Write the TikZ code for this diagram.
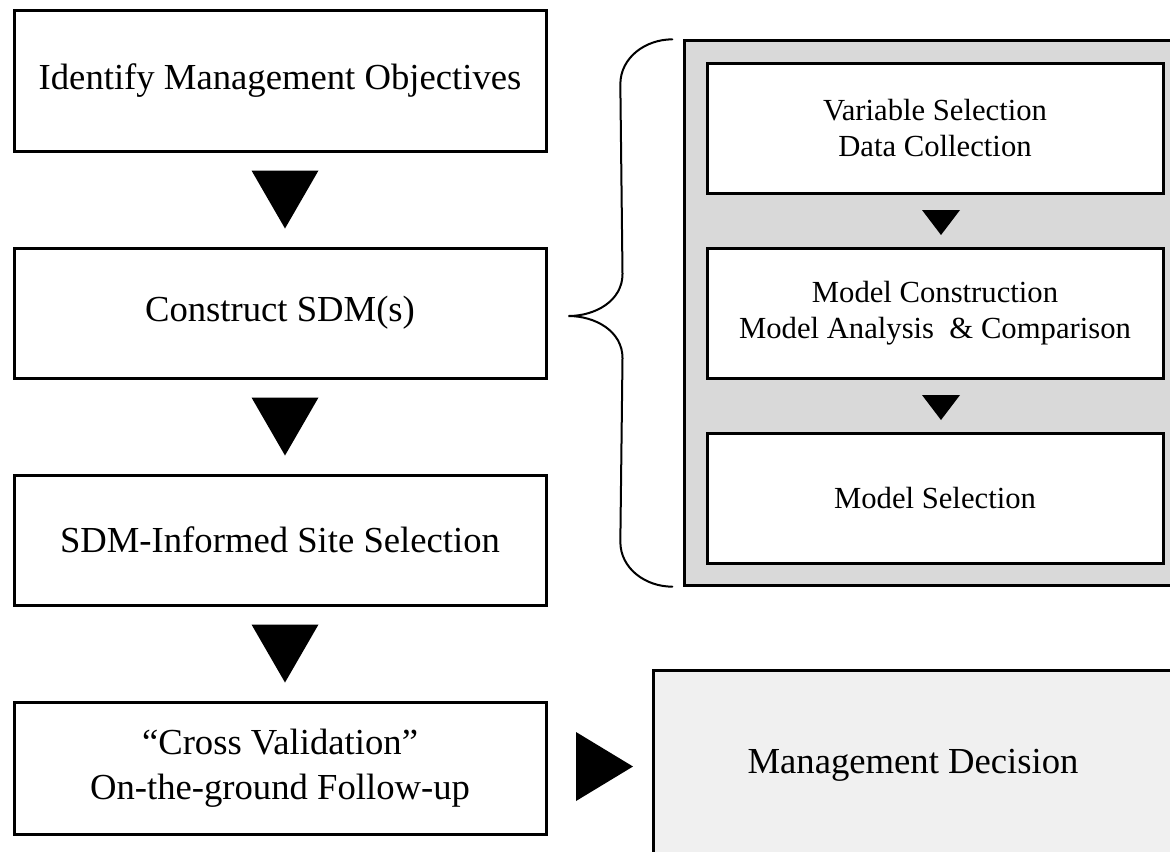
\documentclass[tikz,border=0pt]{standalone}
\usepackage{fontspec}
\setmainfont{Liberation Serif}
\usetikzlibrary{positioning, calc, fit, backgrounds}
\definecolor{panel-gray}{HTML}{D9D9D9}
\definecolor{decide-gray}{HTML}{F0F0F0}

\begin{document}
\begin{tikzpicture}[
    x=0.75pt, y=0.75pt,
    node distance=70.5pt,
    stepbox/.style={draw, line width=2.25pt, fill=white, minimum width=399pt, minimum height=97.5pt, align=center, font=\fontsize{27.5}{34}\selectfont},
    subbox/.style={draw, line width=2.25pt, fill=white, minimum width=342pt, minimum height=97.5pt, align=center, font=\fontsize{23}{27}\selectfont},
    panelbox/.style={draw, line width=2.25pt, fill=panel-gray, inner sep=15.5pt},
    decisionbox/.style={draw, line width=2.25pt, fill=decide-gray, minimum width=390pt, minimum height=142.5pt, font=\fontsize{27.5}{34}\selectfont},
    arrowtri/.style={fill=black},
    bracket/.style={line width=1.5pt, line cap=round}
]
    \useasboundingbox (0,0) rectangle (1170,-851);

    % --- Main Steps ---
    \node (objectives) [stepbox, minimum height=105.75pt] at (280,-80.5) {Identify Management Objectives};
    \node (construct) [stepbox, below=of objectives] {Construct SDM(s)};
    \node (site) [stepbox, below=of construct] {SDM-Informed Site Selection};
    \node (followup) [stepbox, below=of site, minimum height=99pt] {“Cross Validation”\\On-the-ground Follow-up};

    % --- SDM Sub-steps ---
    \node (varsel) [subbox] at (935,-128) {Variable Selection\\Data Collection};
    \node (modcon) [subbox, below=39pt of varsel] {Model Construction\\Model Analysis~ \& Comparison};
    \node (modsel) [subbox, below=39pt of modcon] {Model Selection};

    % --- Decision ---
    \node (decision) [decisionbox] at (913,-765) {Management Decision};

    % --- Background Panel ---
    \begin{scope}[on background layer]
        \node (panel) [panelbox, fit=(varsel) (modsel)] {};
    \end{scope}

    % --- Arrows ---
    \foreach \a/\b in {objectives/construct, construct/site, site/followup}
        \fill [arrowtri] ($(\a.south)!0.5!(\b.north)+(-28.5,29)$) -- ++(67,0) -- ++(-33.5,-58) -- cycle;
    \foreach \a/\b in {varsel/modcon, modcon/modsel}
        \fill [arrowtri] ($(\a.south)!0.5!(\b.north)+(-13,10.5)$) -- ++(38,0) -- ++(-19,-25) -- cycle;
    \fill [arrowtri] ($(followup.east)!0.5!(decision.west)+(-23.5,34.5)$) -- ++(57,-34.5) -- ++(-57,-34.5) -- cycle;

    % --- Brace ---
    \coordinate (br-top) at ($(panel.north west)+(-11,0)$);
    \coordinate (br-bot) at ($(panel.south west)+(-11,0)$);
    \coordinate (br-tip) at ($(construct.east)+(21,-3)$);
    \draw [bracket] (br-top) to[out=180, in=90] ++(-52,-45) -- ($(br-tip)+(54,42)$) to[out=-90, in=0] (br-tip)
        to[out=0, in=90] ++(54,-42) -- ($(br-bot)+(-52,45)$) to[out=-90, in=180] (br-bot);

\end{tikzpicture}
\end{document}
